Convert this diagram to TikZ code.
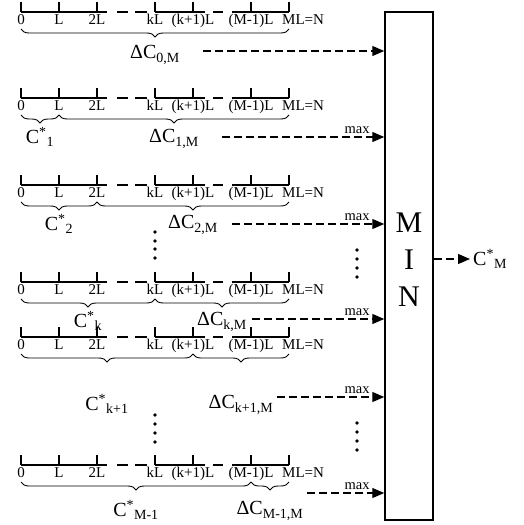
\documentclass[tikz,border=0pt]{standalone}
\usepackage{fontspec}
\setmainfont{Liberation Serif}
\usetikzlibrary{arrows.meta,decorations.pathreplacing}

\tikzset{
  ticklbl/.style={font=\fontsize{15}{15}\selectfont, inner sep=0pt, anchor=north},
  costlbl/.style={font=\fontsize{20}{20}\selectfont, inner sep=0pt},
  maxlbl/.style={font=\fontsize{14.5}{14.5}\selectfont, inner sep=0pt, anchor=base east, xshift=-14pt, yshift=4pt},
  brc/.style={decorate, decoration={brace, amplitude=8pt}, line width=0.9pt},
  feed/.style={dash pattern=on 8pt off 4pt, line width=1.2pt, -{Triangle[length=12pt,width=10pt]}},
}

\begin{document}
\begin{tikzpicture}[x=1pt, y=-1pt]
  \useasboundingbox (0,0) rectangle (524,525);

  % rulers 0 ... ML=N
  \foreach \r/\y in {1/12, 2/98, 3/185, 4/282, 5/337, 6/465} {
    \foreach \a/\b in {21/107, 117/128, 135/147, 155/205, 213/223, 232/289}
      \draw[line width=1.8pt] (\a,\y) -- (\b,\y);
    \foreach \x in {21,59,97,155,193,251,289}
      \draw[line width=1.3pt] (\x,\y) -- (\x,\y-10);
    \node[ticklbl] (z\r) at (21,\y+2) {0};
    \node[ticklbl] (l\r) at (59,\y+2) {L};
    \node[ticklbl] (ll\r) at (97,\y+2) {2L};
    \node[ticklbl] (kl\r) at (155,\y+2) {kL};
    \node[ticklbl] (kk\r) at (193,\y+2) {(k+1)L};
    \node[ticklbl] (mm\r) at (251,\y+2) {(M-1)L};
    \node[ticklbl, anchor=north west] (ml\r) at (282,\y+2) {ML=N};
  }

  % braces
  \draw[brc] (289,29) -- (21,29);
  \draw[brc] (59,115) -- (21,115);
  \draw[brc] (289,115) -- (59,115);
  \draw[brc] (97,202) -- (21,202);
  \draw[brc] (289,202) -- (97,202);
  \draw[brc] (155,299) -- (21,299);
  \draw[brc] (289,299) -- (155,299);
  \draw[brc] (193,354) -- (21,354);
  \draw[brc] (289,354) -- (193,354);
  \draw[brc] (251,482) -- (21,482);
  \draw[brc] (289,482) -- (251,482);

  % costs
  \node[costlbl] (dc0) at (155,55) {ΔC\textsubscript{0,M}};
  \node[costlbl] (cs1) at (40,137) {C\textsuperscript{*}\textsubscript{1}};
  \node[costlbl] (dc1) at (174,139) {ΔC\textsubscript{1,M}};
  \node[costlbl] (cs2) at (59,224) {C\textsuperscript{*}\textsubscript{2}};
  \node[costlbl] (dc2) at (193,225) {ΔC\textsubscript{2,M}};
  \node[costlbl] (csk) at (88,321) {C\textsuperscript{*}\textsubscript{k}};
  \node[costlbl] (dck) at (222,322) {ΔC\textsubscript{k,M}};
  \node[costlbl] (csk1) at (107,404) {C\textsuperscript{*}\textsubscript{k+1}};
  \node[costlbl] (dck1) at (241,405) {ΔC\textsubscript{k+1,M}};
  \node[costlbl] (csm1) at (136,510) {C\textsuperscript{*}\textsubscript{M-1}};
  \node[costlbl] (dcm1) at (270,511) {ΔC\textsubscript{M-1,M}};

  % MIN block
  \node[draw, line width=1.5pt, minimum width=48pt, minimum height=508pt, inner sep=0pt] (mn) at (409,266) {};
  \node[align=center, font=\fontsize{30}{37}\selectfont, inner sep=0pt] (mintxt) at (409,260) {M\\I\\N};
  \node[costlbl, anchor=west] (cm) at (473,259) {C\textsuperscript{*}\textsubscript{M}};

  \coordinate (a0) at (203,51);
  \coordinate (a1) at (222,137);
  \coordinate (a2) at (232,224);
  \coordinate (a3) at (252,319);
  \coordinate (a4) at (277,397);
  \coordinate (a5) at (307,493);
  \draw[feed] (a0) -- (a0 -| mn.west);
  \draw[feed] (a1) -- (a1 -| mn.west) node[maxlbl] {max};
  \draw[feed] (a2) -- (a2 -| mn.west) node[maxlbl] {max};
  \draw[feed] (a3) -- (a3 -| mn.west) node[maxlbl] {max};
  \draw[feed] (a4) -- (a4 -| mn.west) node[maxlbl] {max};
  \draw[feed] (a5) -- (a5 -| mn.west) node[maxlbl] {max};
  \draw[feed] (cm.west -| mn.east) -- ([xshift=-3pt]cm.west);

  % vertical dots
  \foreach \y in {232,241,249,258,415,424,433,442}
    \fill (155,\y) circle (1.8pt);
  \foreach \y in {250,259,268,277,423,432,441,450}
    \fill (357,\y) circle (1.8pt);
\end{tikzpicture}
\end{document}
